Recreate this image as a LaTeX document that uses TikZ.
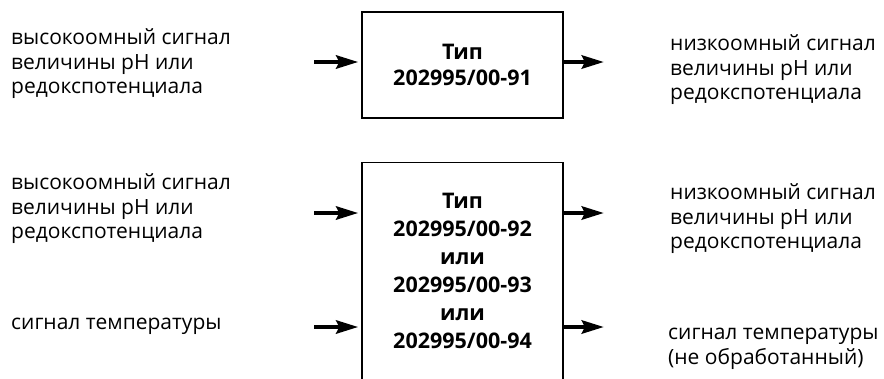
\documentclass[tikz,border=0pt]{standalone}
\usepackage{fontspec}
\setmainfont{Open Sans}
\usetikzlibrary{arrows.meta, positioning}

\begin{document}
\begin{tikzpicture}[x=1pt,y=-1pt,>={Stealth[length=22pt,width=13pt,inset=3pt]},
  box/.style={draw,line width=1.3pt,minimum width=201pt,inner sep=0pt},
  sig/.style={->,line width=4.5pt,shorten >=3pt},
  txt/.style={align=left,anchor=west,inner sep=0pt,font=\fontsize{21}{24.5}\selectfont},
  boxtxt/.style={align=center,inner sep=0pt,font=\fontsize{21.5}{26}\selectfont\bfseries}]
  \useasboundingbox (0,0) rectangle (884,378);

  % converters
  \node[box,minimum height=106pt] (B1) at (462.5,65) {};
  \node[boxtxt] (L1) at (B1.center) {Тип\\202995/00-91};
  \node[box,minimum height=230pt,anchor=north] (B2) at (462.5,162) {};
  \node[boxtxt,font=\fontsize{21.5}{28}\selectfont\bfseries] (L2) at (462.5,271)
    {Тип\\202995/00-92\\или\\202995/00-93\\или\\202995/00-94};

  % arrow ends
  \coordinate (i1) at (314,62);
  \coordinate (o1) at (607,62);
  \coordinate (i2) at (314,213);
  \coordinate (o2) at (607,213);
  \coordinate (i3) at (314,327);
  \coordinate (o3) at (607,327);

  \draw[sig] (i1) -- (i1 -| B1.west);
  \draw[sig] (o1 -| B1.east) -- (o1);
  \draw[sig] (i2) -- (i2 -| B2.west);
  \draw[sig] (o2 -| B2.east) -- (o2);
  \draw[sig] (i3) -- (i3 -| B2.west);
  \draw[sig] (o3 -| B2.east) -- (o3);

  % signals
  \node[txt] (in1) at (11,64) {высокоомный сигнал\\величины pH или\\редокспотенциала};
  \node[txt] (out1) at (670,70) {низкоомный сигнал\\величины pH или\\редокспотенциала};
  \node[txt] (in2) at (11,209) {высокоомный сигнал\\величины pH или\\редокспотенциала};
  \node[txt] (out2) at (670,219) {низкоомный сигнал\\величины pH или\\редокспотенциала};
  \node[txt] (in3) at (11,326) {сигнал температуры};
  \node[txt] (out3) at (668,349) {сигнал температуры\\(не обработанный)};
\end{tikzpicture}
\end{document}
